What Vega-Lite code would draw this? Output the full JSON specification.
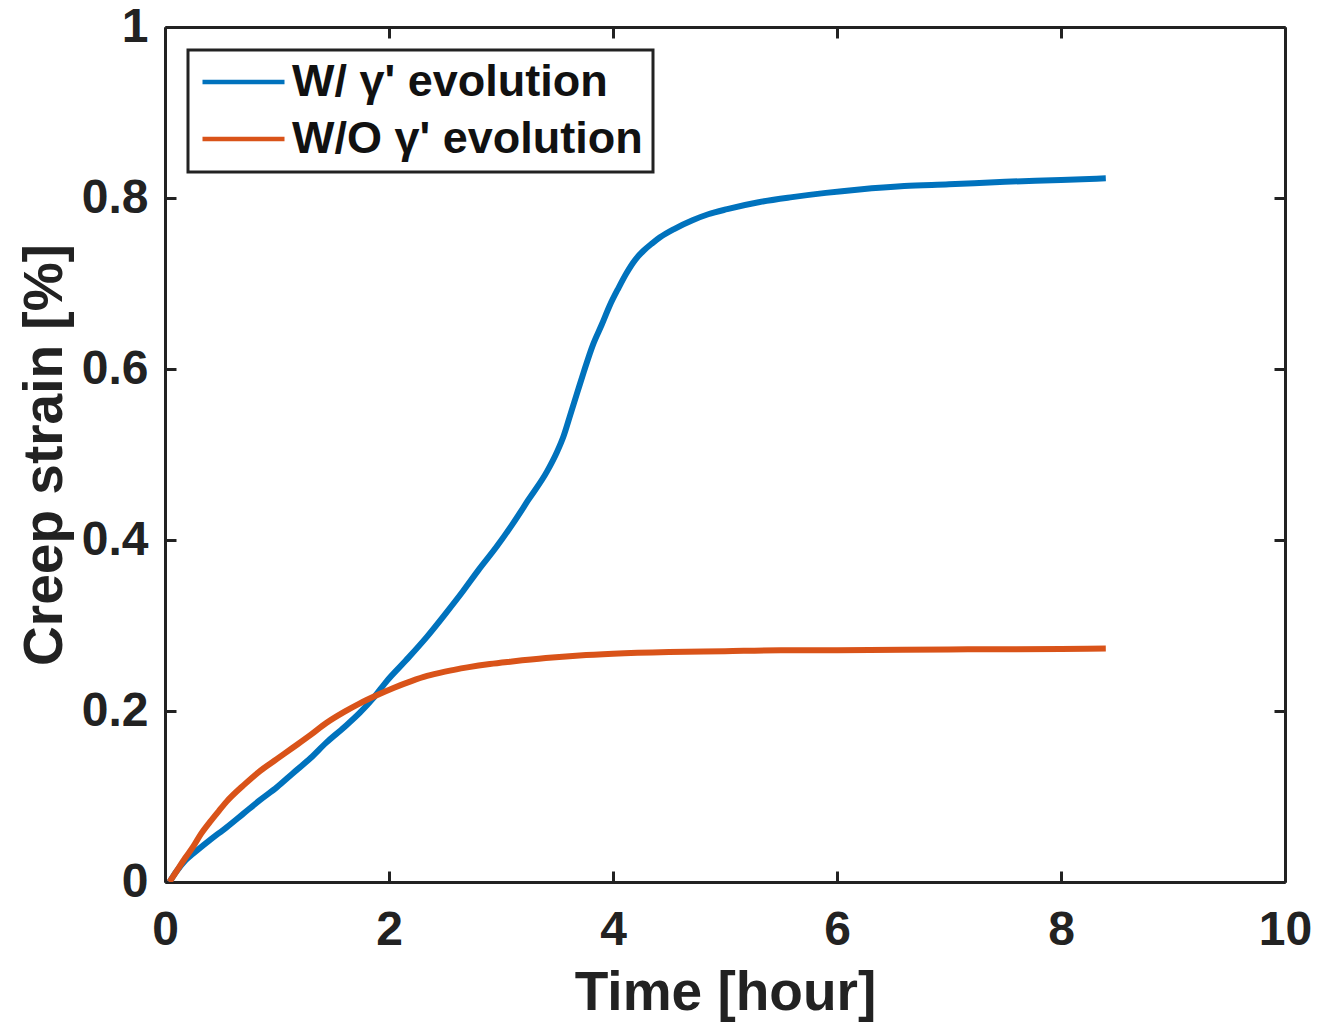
{
  "$schema": "https://vega.github.io/schema/vega-lite/v6.json",
  "width": 1120,
  "height": 855,
  "autosize": "none",
  "padding": {"left": 165, "top": 27, "right": 34, "bottom": 145},
  "background": "white",
  "config": {
    "view": {"stroke": null},
    "axis": {
      "grid": false,
      "domainColor": "#222222",
      "domainWidth": 3,
      "tickColor": "#222222",
      "tickWidth": 3,
      "tickSize": -11,
      "labelFont": "Liberation Sans",
      "labelFontWeight": "bold",
      "labelFontSize": 48,
      "labelColor": "#222222",
      "labelFlush": false,
      "labelOverlap": false,
      "titleFont": "Liberation Sans",
      "titleFontWeight": "bold",
      "titleFontSize": 55,
      "titleColor": "#222222"
    }
  },
  "data": {
    "values": [
      {"series": "W/ γ' evolution", "time": 0.04, "strain": 0},
      {"series": "W/ γ' evolution", "time": 0.1, "strain": 0.012},
      {"series": "W/ γ' evolution", "time": 0.18, "strain": 0.025},
      {"series": "W/ γ' evolution", "time": 0.25, "strain": 0.033},
      {"series": "W/ γ' evolution", "time": 0.4, "strain": 0.049},
      {"series": "W/ γ' evolution", "time": 0.55, "strain": 0.064},
      {"series": "W/ γ' evolution", "time": 0.7, "strain": 0.08},
      {"series": "W/ γ' evolution", "time": 0.85, "strain": 0.096},
      {"series": "W/ γ' evolution", "time": 1.0, "strain": 0.111},
      {"series": "W/ γ' evolution", "time": 1.14, "strain": 0.127},
      {"series": "W/ γ' evolution", "time": 1.3, "strain": 0.145},
      {"series": "W/ γ' evolution", "time": 1.44, "strain": 0.163},
      {"series": "W/ γ' evolution", "time": 1.6, "strain": 0.181},
      {"series": "W/ γ' evolution", "time": 1.74, "strain": 0.198},
      {"series": "W/ γ' evolution", "time": 1.86, "strain": 0.215},
      {"series": "W/ γ' evolution", "time": 1.98, "strain": 0.235},
      {"series": "W/ γ' evolution", "time": 2.15, "strain": 0.259},
      {"series": "W/ γ' evolution", "time": 2.34, "strain": 0.287},
      {"series": "W/ γ' evolution", "time": 2.5, "strain": 0.313},
      {"series": "W/ γ' evolution", "time": 2.66, "strain": 0.34},
      {"series": "W/ γ' evolution", "time": 2.8, "strain": 0.365},
      {"series": "W/ γ' evolution", "time": 2.96, "strain": 0.392},
      {"series": "W/ γ' evolution", "time": 3.1, "strain": 0.418},
      {"series": "W/ γ' evolution", "time": 3.25, "strain": 0.448},
      {"series": "W/ γ' evolution", "time": 3.41, "strain": 0.48},
      {"series": "W/ γ' evolution", "time": 3.5, "strain": 0.503},
      {"series": "W/ γ' evolution", "time": 3.56, "strain": 0.522},
      {"series": "W/ γ' evolution", "time": 3.62, "strain": 0.547},
      {"series": "W/ γ' evolution", "time": 3.68, "strain": 0.572},
      {"series": "W/ γ' evolution", "time": 3.74, "strain": 0.597},
      {"series": "W/ γ' evolution", "time": 3.82, "strain": 0.628},
      {"series": "W/ γ' evolution", "time": 3.9, "strain": 0.652},
      {"series": "W/ γ' evolution", "time": 3.97, "strain": 0.674},
      {"series": "W/ γ' evolution", "time": 4.05, "strain": 0.695},
      {"series": "W/ γ' evolution", "time": 4.12, "strain": 0.712},
      {"series": "W/ γ' evolution", "time": 4.2, "strain": 0.728},
      {"series": "W/ γ' evolution", "time": 4.27, "strain": 0.738},
      {"series": "W/ γ' evolution", "time": 4.35, "strain": 0.747},
      {"series": "W/ γ' evolution", "time": 4.42, "strain": 0.754},
      {"series": "W/ γ' evolution", "time": 4.55, "strain": 0.764},
      {"series": "W/ γ' evolution", "time": 4.71, "strain": 0.774},
      {"series": "W/ γ' evolution", "time": 4.85, "strain": 0.781},
      {"series": "W/ γ' evolution", "time": 5.02, "strain": 0.787},
      {"series": "W/ γ' evolution", "time": 5.3, "strain": 0.795},
      {"series": "W/ γ' evolution", "time": 5.6, "strain": 0.801},
      {"series": "W/ γ' evolution", "time": 5.9, "strain": 0.806},
      {"series": "W/ γ' evolution", "time": 6.2, "strain": 0.81},
      {"series": "W/ γ' evolution", "time": 6.6, "strain": 0.814},
      {"series": "W/ γ' evolution", "time": 7.0, "strain": 0.816},
      {"series": "W/ γ' evolution", "time": 7.5, "strain": 0.819},
      {"series": "W/ γ' evolution", "time": 8.0, "strain": 0.821},
      {"series": "W/ γ' evolution", "time": 8.4, "strain": 0.823},
      {"series": "W/O γ' evolution", "time": 0.04, "strain": 0},
      {"series": "W/O γ' evolution", "time": 0.1, "strain": 0.012},
      {"series": "W/O γ' evolution", "time": 0.18, "strain": 0.028},
      {"series": "W/O γ' evolution", "time": 0.25, "strain": 0.041},
      {"series": "W/O γ' evolution", "time": 0.32, "strain": 0.056},
      {"series": "W/O γ' evolution", "time": 0.4, "strain": 0.07},
      {"series": "W/O γ' evolution", "time": 0.48, "strain": 0.083},
      {"series": "W/O γ' evolution", "time": 0.55, "strain": 0.094},
      {"series": "W/O γ' evolution", "time": 0.7, "strain": 0.113},
      {"series": "W/O γ' evolution", "time": 0.85, "strain": 0.13},
      {"series": "W/O γ' evolution", "time": 1.0, "strain": 0.144},
      {"series": "W/O γ' evolution", "time": 1.14, "strain": 0.157},
      {"series": "W/O γ' evolution", "time": 1.3, "strain": 0.172},
      {"series": "W/O γ' evolution", "time": 1.44, "strain": 0.186},
      {"series": "W/O γ' evolution", "time": 1.6, "strain": 0.199},
      {"series": "W/O γ' evolution", "time": 1.74, "strain": 0.209},
      {"series": "W/O γ' evolution", "time": 1.9, "strain": 0.219},
      {"series": "W/O γ' evolution", "time": 2.04, "strain": 0.227},
      {"series": "W/O γ' evolution", "time": 2.2, "strain": 0.235},
      {"series": "W/O γ' evolution", "time": 2.34, "strain": 0.241},
      {"series": "W/O γ' evolution", "time": 2.5, "strain": 0.246},
      {"series": "W/O γ' evolution", "time": 2.7, "strain": 0.251},
      {"series": "W/O γ' evolution", "time": 2.9, "strain": 0.255},
      {"series": "W/O γ' evolution", "time": 3.1, "strain": 0.258},
      {"series": "W/O γ' evolution", "time": 3.4, "strain": 0.262},
      {"series": "W/O γ' evolution", "time": 3.7, "strain": 0.265},
      {"series": "W/O γ' evolution", "time": 4.0, "strain": 0.267},
      {"series": "W/O γ' evolution", "time": 4.5, "strain": 0.269},
      {"series": "W/O γ' evolution", "time": 5.0, "strain": 0.27},
      {"series": "W/O γ' evolution", "time": 5.5, "strain": 0.271},
      {"series": "W/O γ' evolution", "time": 6.0, "strain": 0.271},
      {"series": "W/O γ' evolution", "time": 7.0, "strain": 0.272},
      {"series": "W/O γ' evolution", "time": 8.0, "strain": 0.2725},
      {"series": "W/O γ' evolution", "time": 8.4, "strain": 0.273}
    ]
  },
  "resolve": {"axis": {"x": "independent", "y": "independent"}},
  "layer": [
    {
      "mark": {"type": "line", "strokeWidth": 6, "interpolate": "monotone", "clip": true},
      "encoding": {
        "x": {
          "field": "time", "type": "quantitative",
          "scale": {"domain": [0, 10], "nice": false},
          "axis": {"orient": "bottom", "title": "Time [hour]", "values": [0, 2, 4, 6, 8, 10], "labelPadding": 35, "titlePadding": 12}
        },
        "y": {
          "field": "strain", "type": "quantitative",
          "scale": {"domain": [0, 1], "nice": false},
          "axis": {"orient": "left", "title": "Creep strain [%]", "values": [0, 0.2, 0.4, 0.6, 0.8, 1], "format": "~g", "labelPadding": 28, "titlePadding": 8}
        },
        "color": {
          "field": "series", "type": "nominal",
          "scale": {"domain": ["W/ γ' evolution", "W/O γ' evolution"], "range": ["#0072BD", "#D95319"]},
          "legend": {
            "title": null,
            "orient": "none",
            "legendX": 23,
            "legendY": 23,
            "fillColor": "white",
            "strokeColor": "#222222",
            "padding": 10,
            "rowPadding": 12,
            "clipHeight": 44,
            "symbolOffset": 2,
            "labelFont": "Liberation Sans",
            "labelFontWeight": "bold",
            "labelFontSize": 45,
            "labelColor": "#111111",
            "labelLimit": 0,
            "labelOffset": 5,
            "symbolType": "stroke",
            "symbolSize": 6724,
            "symbolStrokeWidth": 4.5,
            "encode": {"legend": {"update": {"strokeWidth": {"value": 3}}}}
          }
        },
        "detail": {"field": "series"}
      }
    },
    {
      "mark": {"type": "line", "strokeOpacity": 0},
      "encoding": {
        "x": {
          "field": "time", "type": "quantitative",
          "scale": {"domain": [0, 10], "nice": false},
          "axis": {"orient": "top", "title": null, "labels": false, "values": [0, 2, 4, 6, 8, 10]}
        },
        "y": {
          "field": "strain", "type": "quantitative",
          "scale": {"domain": [0, 1], "nice": false},
          "axis": {"orient": "right", "title": null, "labels": false, "values": [0, 0.2, 0.4, 0.6, 0.8, 1]}
        },
        "detail": {"field": "series"}
      }
    }
  ]
}
